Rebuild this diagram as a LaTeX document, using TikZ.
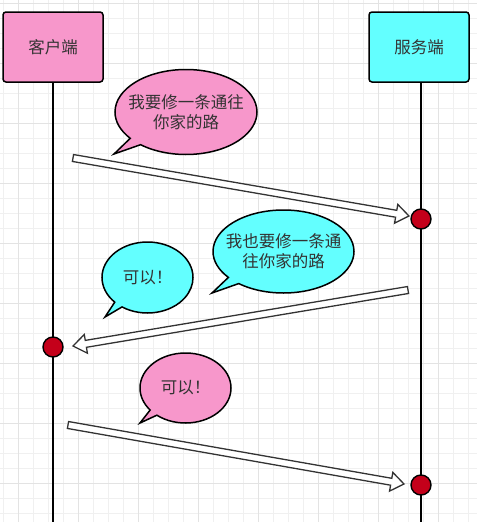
\documentclass[tikz,border=0pt]{standalone}
\usepackage{fontspec}
\setmainfont{Noto Sans CJK SC}
\usetikzlibrary{calc}
\usetikzlibrary{shapes.callouts}
\definecolor{clientpink}{HTML}{F797CB}
\definecolor{servercyan}{HTML}{63FFFF}
\definecolor{eventred}{HTML}{C4001A}
\definecolor{inkgray}{HTML}{333333}
\tikzset{x=1pt, y=-1pt,
gridminor/.style={draw=black!6, line width=0.8pt},
gridmajor/.style={draw=black!11, line width=0.8pt},
actor/.style={ % Sets the properties for both end boxes
draw=black, line width=1.5pt, rounded corners=3pt,
minimum width=100pt, minimum height=70pt,
text=inkgray, font=\fontsize{16.5}{20}\selectfont},
lifeline/.style={draw=black, line width=2pt},
event/.style={circle, draw=black, line width=1.4pt, fill=eventred,
minimum size=20pt, inner sep=0pt},
msg/.style={draw=inkgray, line width=1.3pt, fill=white, line join=miter},
bubble/.style={ % Speech bubbles
ellipse callout, draw=black, line width=1.5pt, inner sep=0pt,
callout pointer arc=12, align=center,
text=inkgray, font=\fontsize{16.5}{20}\selectfont}}

% keeps a line of bubble text from widening the ellipse
\newcommand{\bline}[1]{\makebox[50pt]{#1}}

% hollow block arrow between two named points
\newcommand{\msgarrow}[2]{%
\path let \p1=($(#2)-(#1)$) in \pgfextra{%
\pgfmathsetmacro\arrang{atan2(\y1,\x1)}\global\let\arrang\arrang
\pgfmathsetmacro\arrlen{veclen(\x1,\y1)}\global\let\arrlen\arrlen};
\draw[msg, shift={(#1)}, rotate=\arrang] (0,-3.5) -- ({\arrlen-13},-3.5)
-- ({\arrlen-13},-9.5) -- (\arrlen,0) -- ({\arrlen-13},9.5)
-- ({\arrlen-13},3.5) -- (0,3.5) -- cycle;}

\begin{document}
\begin{tikzpicture}
\useasboundingbox[fill=white] (0,0) rectangle (477,522);
\foreach \x in {3,18,...,477} \draw[gridminor] (\x,0) -- (\x,522);
\foreach \y in {3,18,...,522} \draw[gridminor] (0,\y) -- (477,\y);
\foreach \x in {18,78,...,477} \draw[gridmajor] (\x,0) -- (\x,522);
\foreach \y in {3,63,...,522} \draw[gridmajor] (0,\y) -- (477,\y);

\node[actor, fill=clientpink] (client) at (53,47) {客户端};
\node[actor, fill=servercyan] (server) at (419,47) {服务端};
\coordinate (cbot) at (53,522);
\coordinate (sbot) at (421,522);
\draw[lifeline] (client.south) -- (cbot);
\draw[lifeline] (server.south -| sbot) -- (sbot);

\node[event] (e1) at (421,219) {};
\node[event] (e2) at (53,347) {};
\node[event] (e3) at (421,485) {};

\coordinate (m1a) at (73,158);
\coordinate (m1b) at (409,216);
\coordinate (m2a) at (408,290);
\coordinate (m2b) at (73,346);
\coordinate (m3a) at (68,425);
\coordinate (m3b) at (404,484);
\msgarrow{m1a}{m1b}
\msgarrow{m2a}{m2b}
\msgarrow{m3a}{m3b}

\coordinate (t1) at (114,154);
\coordinate (t2) at (105,317);
\coordinate (t3) at (212,293);
\coordinate (t4) at (140,423);
\node[bubble, fill=clientpink, minimum width=142pt, minimum height=85pt,
callout absolute pointer={(t1)}] (b1) at (186,112)
{\bline{我要修一条通往}\\\bline{你家的路}};
\node[bubble, fill=servercyan, minimum width=91pt, minimum height=71pt,
callout absolute pointer={(t2)}] (b2) at (147.5,277.5) {\bline{可以！}};
\node[bubble, fill=servercyan, minimum width=141pt, minimum height=83pt,
callout absolute pointer={(t3)}] (b3) at (283.5,251.5)
{\bline{我也要修一条通}\\\bline{往你家的路}};
\node[bubble, fill=clientpink, minimum width=91pt, minimum height=70pt,
callout absolute pointer={(t4)}] (b4) at (185.5,388) {\bline{可以！}};
\end{tikzpicture}
\end{document}
